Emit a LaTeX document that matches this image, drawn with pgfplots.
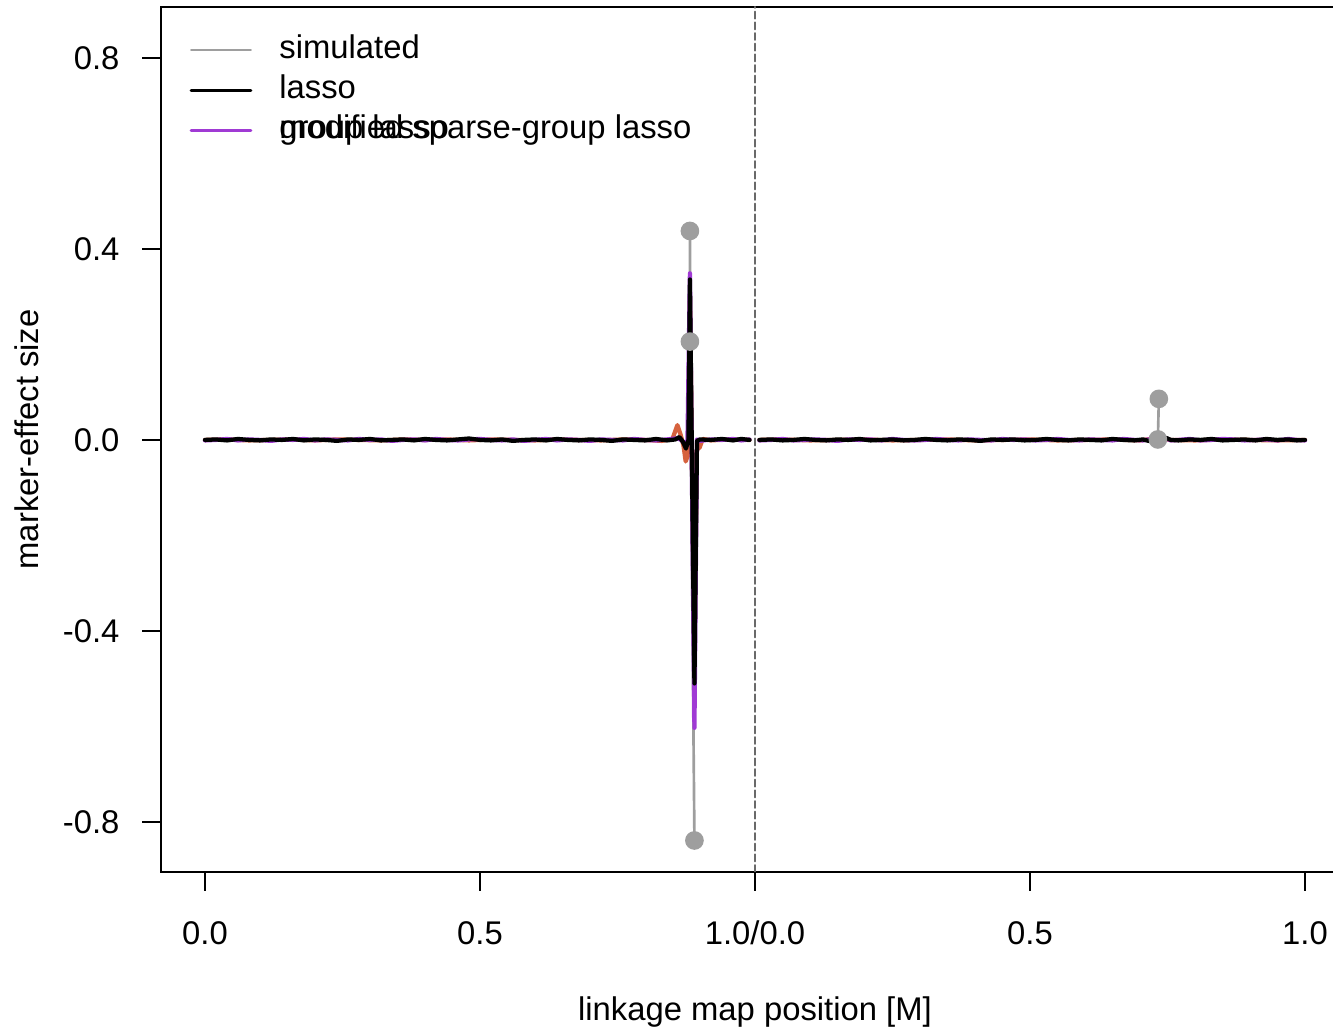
\documentclass[border=0pt]{standalone}
\usepackage{fontspec}
\setmainfont{Liberation Sans}
\usepackage{pgfplots}
\pgfplotsset{compat=1.18}
\definecolor{simgray}{RGB}{158,158,158}
\definecolor{glpurple}{RGB}{160,58,212}
\definecolor{msorange}{RGB}{214,98,62}
\definecolor{divgray}{RGB}{105,105,105}

% lasso, chromosome 1 and 2 (x = cumulative map position)
\pgfplotstableread{
x y
0.000 0.000
0.020 0.001
0.040 -0.001
0.060 0.002
0.080 0.000
0.100 -0.001
0.120 0.001
0.140 0.000
0.160 0.002
0.180 -0.001
0.200 0.001
0.220 0.000
0.240 -0.002
0.260 0.001
0.280 0.000
0.300 0.002
0.320 -0.001
0.340 0.000
0.360 0.001
0.380 -0.001
0.400 0.002
0.420 0.000
0.440 -0.001
0.460 0.001
0.480 0.003
0.500 0.000
0.520 -0.001
0.540 0.001
0.560 -0.002
0.580 0.000
0.600 0.001
0.620 -0.001
0.640 0.002
0.660 0.000
0.680 -0.001
0.700 0.001
0.720 0.000
0.740 -0.002
0.760 0.001
0.780 0.000
0.800 -0.001
0.820 0.002
0.840 -0.001
0.855 0.001
0.8626 0.006
0.8690 -0.004
0.8745 -0.018
0.8790 0.000
0.8817 0.336
0.8899 -0.510
0.8945 -0.002
0.9000 0.001
0.920 0.000
0.940 0.002
0.960 -0.001
0.975 0.002
0.990 0.000
}\lassoA
\pgfplotstableread{
x y
1.008 0.000
1.030 0.001
1.050 -0.001
1.070 0.000
1.090 0.002
1.110 0.000
1.130 -0.001
1.150 0.001
1.170 0.000
1.190 0.002
1.210 -0.001
1.230 0.000
1.250 0.001
1.270 -0.001
1.290 0.000
1.310 0.002
1.330 0.000
1.350 -0.001
1.370 0.001
1.390 0.000
1.410 -0.002
1.430 0.001
1.450 0.000
1.470 0.001
1.490 -0.001
1.510 0.000
1.530 0.002
1.550 0.000
1.570 -0.001
1.590 0.001
1.610 0.000
1.630 -0.001
1.650 0.002
1.670 0.000
1.690 -0.001
1.705 0.001
1.716 -0.002
1.7289 -0.003
1.7343 0.015
1.7400 0.000
1.7480 0.004
1.7560 0.000
1.770 -0.001
1.790 0.001
1.810 0.000
1.830 0.002
1.850 -0.001
1.870 0.000
1.890 0.001
1.910 -0.001
1.930 0.002
1.950 0.000
1.970 0.001
1.985 -0.001
2.000 0.000
}\lassoB

% group lasso
\pgfplotstableread{
x y
0.000 -0.001
0.020 0.000
0.040 0.002
0.060 -0.001
0.080 0.001
0.100 0.000
0.120 -0.002
0.140 0.001
0.160 0.000
0.180 0.002
0.200 -0.001
0.220 0.001
0.240 0.000
0.260 -0.001
0.280 0.002
0.300 0.000
0.320 0.001
0.340 -0.002
0.360 0.000
0.380 0.001
0.400 -0.001
0.420 0.002
0.440 0.000
0.460 -0.001
0.480 0.001
0.500 0.002
0.520 0.000
0.540 -0.001
0.560 0.001
0.580 -0.002
0.600 0.000
0.620 0.002
0.640 -0.001
0.660 0.001
0.680 0.000
0.700 -0.002
0.720 0.001
0.740 0.000
0.760 -0.001
0.780 0.002
0.800 0.000
0.820 -0.001
0.840 0.001
0.855 0.003
0.8626 0.002
0.8700 -0.004
0.8772 -0.006
0.8817 0.349
0.8899 -0.603
0.8945 0.001
0.9000 -0.002
0.920 0.001
0.940 0.000
0.960 0.002
0.975 -0.001
0.990 0.001
}\groupA
\pgfplotstableread{
x y
1.008 -0.001
1.030 0.000
1.050 0.002
1.070 -0.001
1.090 0.000
1.110 0.001
1.130 0.000
1.150 -0.002
1.170 0.001
1.190 0.000
1.210 0.001
1.230 -0.001
1.250 0.002
1.270 0.000
1.290 -0.001
1.310 0.000
1.330 0.002
1.350 0.000
1.370 -0.001
1.390 0.001
1.410 0.000
1.430 -0.001
1.450 0.002
1.470 0.000
1.490 0.001
1.510 -0.001
1.530 0.000
1.550 0.002
1.570 0.000
1.590 -0.001
1.610 0.001
1.630 0.000
1.650 -0.001
1.670 0.002
1.690 0.000
1.705 -0.001
1.716 0.001
1.7289 -0.002
1.7343 0.012
1.7400 0.001
1.7480 0.003
1.7560 -0.001
1.770 0.000
1.790 0.002
1.810 -0.001
1.830 0.000
1.850 0.002
1.870 0.001
1.890 -0.001
1.910 0.000
1.930 0.001
1.950 -0.001
1.970 0.002
1.985 0.000
2.000 -0.001
}\groupB

% modified sparse-group lasso
\pgfplotstableread{
x y
0.000 0.000
0.040 0.001
0.080 -0.001
0.120 0.000
0.160 0.001
0.200 -0.001
0.240 0.001
0.280 0.000
0.320 -0.001
0.360 0.001
0.400 0.000
0.440 0.001
0.480 -0.001
0.520 0.001
0.560 0.000
0.600 -0.001
0.640 0.001
0.680 0.000
0.720 -0.001
0.760 0.001
0.800 0.000
0.830 -0.002
0.8499 0.002
0.8589 0.031
0.8650 0.010
0.8700 -0.012
0.8740 -0.045
0.8785 -0.030
0.8817 0.300
0.8899 -0.450
0.8945 -0.006
0.8990 -0.017
0.9050 0.002
0.920 -0.001
0.950 0.001
0.990 0.000
}\msglA
\pgfplotstableread{
x y
1.008 0.000
1.050 0.001
1.100 -0.001
1.150 0.000
1.200 0.001
1.250 -0.001
1.300 0.000
1.350 0.001
1.400 -0.001
1.450 0.000
1.500 0.001
1.550 -0.001
1.600 0.000
1.650 0.001
1.700 -0.001
1.7200 0.002
1.7289 -0.002
1.7343 0.010
1.7420 0.002
1.7560 0.000
1.800 -0.001
1.850 0.001
1.900 0.000
1.950 -0.001
2.000 0.000
}\msglB

\begin{document}
\begin{tikzpicture}
\begin{axis}[
  at={(0pt,0pt)}, anchor=south west,
  scale only axis, width=445.5pt, height=324.4pt,
  xmin=-0.08, xmax=2.08, ymin=-0.905, ymax=0.907,
  axis line style={line width=0.9pt},
  tick style={line width=0.9pt, black},
  tick align=outside, major tick length=7pt,
  xtick pos=left, ytick pos=left,
  xtick={0,0.5,1,1.5,2}, xticklabels={0.0,0.5,1.0/0.0,0.5,1.0},
  ytick={-0.8,-0.4,0,0.4,0.8}, yticklabels={-0.8,-0.4,0.0,0.4,0.8},
  font=\fontsize{12.3}{14.8}\selectfont,
  ticklabel style={font=\fontsize{12.3}{14.8}\selectfont},
  xticklabel style={inner sep=0pt, yshift=-11.25pt},
  yticklabel style={inner sep=0pt, xshift=-8.4pt},
  xlabel={linkage map position [M]}, ylabel={marker-effect size},
  xlabel style={at={(axis description cs:0.5,-0.1717)}, anchor=base},
  ylabel style={at={(axis description cs:-0.1035,0.5)}, anchor=base},
  legend style={draw=none, fill=none, at={(axis description cs:0,1)},
    anchor=north west, xshift=10.5pt, yshift=-10.1pt, inner sep=0pt,
    row sep=3pt, nodes={inner sep=0pt, text height=9pt, text depth=3pt},
    font=\fontsize{12.3}{14.8}\selectfont},
  legend cell align=left,
  legend image code/.code={\draw[#1] (0pt,0pt) -- (22.5pt,0pt); \path (32.6pt,0pt);},
  every axis plot/.append style={line cap=round, line join=round},
]
% simulated QTL effects
\addplot[simgray, line width=1pt, mark=*, mark size=3pt,
  mark options={fill=simgray, draw=simgray}, forget plot] coordinates {
  (0.8817,0.4377) (0.8817,0.206) (0.8899,-0.839)};
\addplot[simgray, line width=1pt, mark=*, mark size=3pt,
  mark options={fill=simgray, draw=simgray}, forget plot] coordinates {
  (1.7325,0.001) (1.7343,0.086)};
% estimates
\addplot[msorange, line width=1.6pt, forget plot] table {\msglA};
\addplot[msorange, line width=1.6pt, forget plot] table {\msglB};
\addplot[glpurple, line width=1.6pt, forget plot] table {\groupA};
\addplot[glpurple, line width=1.6pt, forget plot] table {\groupB};
\addplot[black, line width=1.6pt, forget plot] table {\lassoA};
\addplot[black, line width=1.6pt, forget plot] table {\lassoB};
% chromosome boundary
\addplot[divgray, line width=0.75pt, dash pattern=on 2.6pt off 1.4pt, forget plot]
  coordinates {(1,-0.905) (1,0.907)};
\addlegendimage{simgray, line width=0.7pt}
\addlegendentry{simulated}
\addlegendimage{black, line width=1.1pt}
\addlegendentry{lasso}
\addlegendimage{glpurple, line width=1.0pt}
\addlegendentry{\rlap{group lasso}modified sparse-group lasso}
\end{axis}
\pgfresetboundingbox
\path[use as bounding box] (-60.375pt,-58.875pt) rectangle (439.5pt,327pt);
\end{tikzpicture}
\end{document}
